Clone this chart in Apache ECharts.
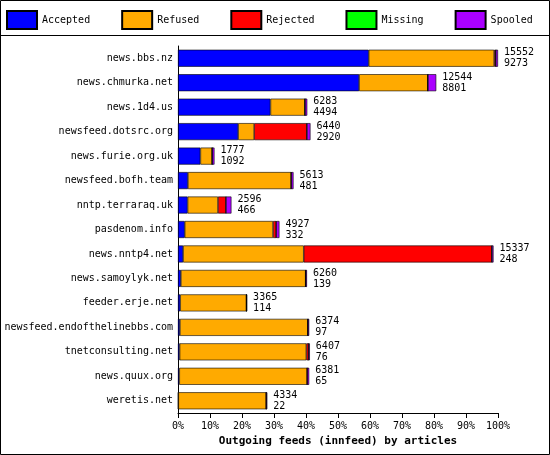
<!DOCTYPE html>
<html><head><meta charset="utf-8">
<script src="https://cdn.jsdelivr.net/npm/echarts@6/dist/echarts.min.js"></script>
<style>html,body{margin:0;padding:0;background:#fff}#c{width:550px;height:455px}</style>
</head><body><div id="c"></div>
<script>
const categories = ["news.bbs.nz","news.chmurka.net","news.1d4.us","newsfeed.dotsrc.org","news.furie.org.uk","newsfeed.bofh.team","nntp.terraraq.uk","pasdenom.info","news.nntp4.net","news.samoylyk.net","feeder.erje.net","newsfeed.endofthelinebbs.com","tnetconsulting.net","news.quux.org","weretis.net"];
const totals =   [15552,12544,6283,6440,1777,5613,2596,4927,15337,6260,3365,6374,6407,6381,4334];
const accCount = [9273,8801,4494,2920,1092,481,466,332,248,139,114,97,76,65,22];
const accepted = [59.6,56.6,28.9,18.8,7.0,3.1,3.0,2.1,1.6,0.9,0.7,0.6,0.5,0.4,0.1];
const refused  = [39.2,21.5,10.8,5.0,3.7,32.3,9.5,27.6,37.7,39.0,20.7,40.0,39.6,40.0,27.5];
const rejected = [0.5,0,0,16.5,0,0,2.5,1.0,58.8,0,0,0,0.7,0,0];
const missing  = [0,0,0,0,0,0,0,0,0,0,0,0,0,0,0];
const spooled  = [0.7,2.6,0.7,1.1,0.7,0.7,1.7,1.0,0.5,0.4,0.2,0.4,0.4,0.6,0.3];
const ticks = [0,10,20,30,40,50,60,70,80,90,100];

const font = "DejaVu Sans Mono";
const mk = (name, data, color, last) => ({
  name, type:'bar', stack:'a', data, barWidth:17,
  itemStyle:{color, borderColor:'#000', borderWidth:0.6},
  label: last ? {show:true, position:'right', distance:6, fontFamily:font, fontSize:10, color:'#000', lineHeight:11,
    formatter:p=>totals[p.dataIndex]+'\n'+accCount[p.dataIndex]} : {show:false}
});
const chart = echarts.init(document.getElementById('c'));
chart.setOption({
  animation:false,
  textStyle:{fontFamily:font},
  legend:{top:10, left:6, right:0, itemWidth:30, itemHeight:18, itemGap:31, padding:0,
    textStyle:{fontFamily:font,fontSize:10,color:'#000'},
    data:['Accepted','Refused','Rejected','Missing','Spooled'], icon:'rect'},
  graphic:[
    {type:'rect',shape:{x:0.5,y:0.5,width:549,height:454},style:{fill:'none',stroke:'#000',lineWidth:1}},
    {type:'line',shape:{x1:0,y1:35.5,x2:550,y2:35.5},style:{stroke:'#000',lineWidth:1}}
  ],
  grid:{left:178, right:52, top:46, bottom:42, containLabel:false, outerBoundsMode:'none'},
  xAxis:{type:'value', min:0, max:100, interval:10,
    axisLine:{show:true,lineStyle:{color:'#000'}}, axisTick:{show:true,lineStyle:{color:'#000'}},
    splitLine:{show:false},
    axisLabel:{formatter:v=>v+'%', fontFamily:font, fontSize:10, color:'#000'},
    name:'Outgoing feeds (innfeed) by articles', nameLocation:'middle', nameGap:20,
    nameTextStyle:{fontFamily:font,fontSize:11,fontWeight:'bold',color:'#000'}},
  yAxis:{type:'category', data:categories, inverse:true,
    axisLine:{show:true,lineStyle:{color:'#000'}}, axisTick:{show:false},
    axisLabel:{fontFamily:font,fontSize:10,color:'#000',margin:5}},
  series:[
    mk('Accepted',accepted,'#0000ff'),
    mk('Refused',refused,'#ffaa00'),
    mk('Rejected',rejected,'#ff0000'),
    mk('Missing',missing,'#00ff00'),
    mk('Spooled',spooled,'#aa00ff',true)
  ]
});
</script></body></html>
